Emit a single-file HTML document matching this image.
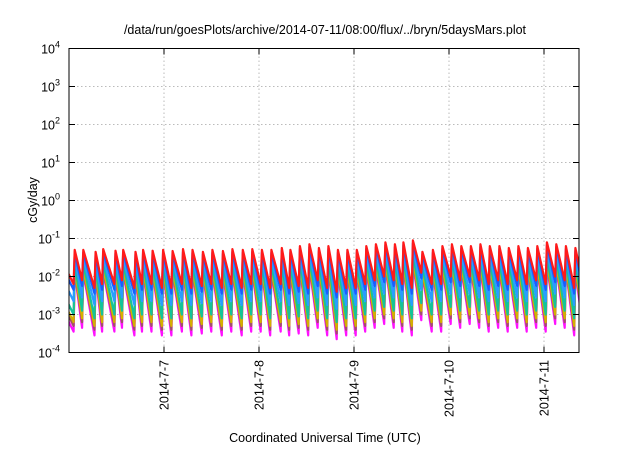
<!DOCTYPE html>
<html><head><meta charset="utf-8"><style>
body{margin:0;background:#fff;}
svg text{font-family:"Liberation Sans",sans-serif;fill:#000;}
</style></head><body>
<svg id="chart" width="640" height="448" viewBox="0 0 640 448" xmlns="http://www.w3.org/2000/svg">
<rect width="640" height="448" fill="#fff"/>
<text x="325" y="34" font-size="12.5" text-anchor="middle">/data/run/goesPlots/archive/2014-07-11/08:00/flux/../bryn/5daysMars.plot</text>
<text x="0" y="0" font-size="12.5" text-anchor="middle" transform="translate(37,200) rotate(-90)">cGy/day</text>
<text x="325" y="442" font-size="12.5" text-anchor="middle">Coordinated Universal Time (UTC)</text>
<g id="grid"></g>
<defs><clipPath id="clip"><rect x="69" y="48.5" width="510" height="304"/></clipPath></defs>
<g id="series" clip-path="url(#clip)"></g>
<rect x="69" y="48.5" width="510" height="304" fill="none" stroke="#000" stroke-width="1"/>
<g id="axes"></g>
</svg>
<script>
const dayLabels = ["2014-7-7","2014-7-8","2014-7-9","2014-7-10","2014-7-11"];
const dayTicks = [1,2,3,4,5];
const yExponents = [-4,-3,-2,-1,0,1,2,3,4];
const seriesNames = ["red","blue","light-blue","teal","olive","brown","magenta"];
const seriesColors = ["#ff1a1a","#1a5cff","#2a9cff","#14c39a","#d4b000","#a0506a","#ff10ff"];
const peakOffsets = [0,-0.07,-0.2,-0.35,-0.5,-0.55,-0.6];
const troughOffsets = [0,-0.15,-0.45,-0.8,-1.0,-1.1,-1.25];
const peakDays = [0.06,0.15,0.28,0.36,0.49,0.57,0.70,0.78,0.88,0.99,1.09,1.20,1.30,1.41,1.51,1.62,1.72,1.83,1.93,2.03,2.13,2.24,2.33,2.43,2.53,2.63,2.73,2.83,2.93,3.03,3.13,3.23,3.33,3.43,3.52,3.62,3.72,3.83,3.93,4.03,4.13,4.23,4.33,4.43,4.53,4.63,4.73,4.83,4.93,5.03,5.13,5.23,5.33];
const peakLogs = [-1.3,-1.3,-1.35,-1.28,-1.32,-1.3,-1.35,-1.3,-1.32,-1.3,-1.33,-1.28,-1.3,-1.35,-1.3,-1.33,-1.28,-1.3,-1.28,-1.3,-1.3,-1.25,-1.3,-1.2,-1.15,-1.25,-1.2,-1.3,-1.3,-1.3,-1.2,-1.15,-1.1,-1.15,-1.1,-1.05,-1.35,-1.3,-1.2,-1.15,-1.2,-1.2,-1.15,-1.2,-1.2,-1.25,-1.2,-1.25,-1.2,-1.1,-1.15,-1.2,-1.25];
const troughLogs = [-2.2,-2.1,-2.3,-2.2,-2.2,-2.1,-2.3,-2.2,-2.2,-2.3,-2.3,-2.2,-2.3,-2.25,-2.2,-2.3,-2.2,-2.3,-2.2,-2.2,-2.3,-2.2,-2.3,-2.25,-2.3,-2.1,-2.3,-2.4,-2.3,-2.3,-2.2,-2.1,-2.0,-2.1,-2.2,-2.3,-1.9,-2.2,-2.2,-2.0,-2.1,-2.0,-2.1,-2.2,-2.1,-2.2,-2.1,-2.2,-2.1,-2.2,-2.0,-2.1,-2.3];

const X0=69,X1=579,Y0=48.5,Y1=352.5,DAYS=(X1-X0)/95;
const xs=d=>X0+d*95;
const ys=l=>Y1-(l+4)*(Y1-Y0)/8;
const NS="http://www.w3.org/2000/svg";
function mk(tag,parent){const e=document.createElementNS(NS,tag);document.getElementById(parent).appendChild(e);return e;}

yExponents.forEach((e,i)=>{
  const y=ys(e);
  if(i>0&&i<yExponents.length-1){
    const g=mk('line','grid');
    
    
    g.setAttribute('x1',X0);g.setAttribute('x2',X1);g.setAttribute('y1',y);g.setAttribute('y2',y);
    g.setAttribute('stroke','#bbb');g.setAttribute('stroke-dasharray','1.5,2.5');
  }
  const t=mk('line','axes');
  
  
  t.setAttribute('x1',X0);t.setAttribute('x2',X0+6);t.setAttribute('y1',y);t.setAttribute('y2',y);t.setAttribute('stroke','#000');
  const t2=mk('line','axes');
  
  
  t2.setAttribute('x1',X1-6);t2.setAttribute('x2',X1);t2.setAttribute('y1',y);t2.setAttribute('y2',y);t2.setAttribute('stroke','#000');
  const tx=mk('text','axes');
  
  
  tx.setAttribute('x',X0-9);tx.setAttribute('y',y+5);tx.setAttribute('text-anchor','end');tx.setAttribute('font-size','12.5');
  tx.innerHTML='10<tspan dy="-6" font-size="9">'+e+'</tspan>';
});
dayTicks.forEach((d,i)=>{
  const x=xs(d);
  const g=mk('line','grid');
  
  
  g.setAttribute('x1',x);g.setAttribute('x2',x);g.setAttribute('y1',Y0);g.setAttribute('y2',Y1);
  g.setAttribute('stroke','#bbb');g.setAttribute('stroke-dasharray','1.5,2.5');
  const t=mk('line','axes');
  
  
  t.setAttribute('x1',x);t.setAttribute('x2',x);t.setAttribute('y1',Y1-6);t.setAttribute('y2',Y1);t.setAttribute('stroke','#000');
  const t2=mk('line','axes');
  
  
  t2.setAttribute('x1',x);t2.setAttribute('x2',x);t2.setAttribute('y1',Y0);t2.setAttribute('y2',Y0+6);t2.setAttribute('stroke','#000');
  const tx=mk('text','axes');
  
  
  tx.setAttribute('font-size','12.5');tx.setAttribute('text-anchor','end');
  tx.setAttribute('transform','translate('+(x+4.5)+',360) rotate(-90)');
  tx.textContent=dayLabels[i];
});
for(let s=seriesNames.length-1;s>=0;s--){
  const name=seriesNames[s];
  let pts=[];
  for(let i=0;i<peakDays.length;i++){
    const tr=troughLogs[i]+troughOffsets[s], pk=peakLogs[i]+peakOffsets[s];
    pts.push([xs(peakDays[i]-0.012),ys(tr)]);
    pts.push([xs(peakDays[i]),ys(pk)]);
  }
  const last=troughLogs[troughLogs.length-1]+troughOffsets[s];
  pts.push([xs(DAYS+0.05),ys(last)]);
  const first=troughLogs[0]+troughOffsets[s];
  pts.unshift([xs(-0.05),ys(first+0.5)]);
  const p=mk('polyline','series');
  
  
  p.setAttribute('points',pts.map(q=>q[0].toFixed(1)+','+q[1].toFixed(1)).join(' '));
  p.setAttribute('fill','none');p.setAttribute('stroke',seriesColors[s]);
  p.setAttribute('stroke-width','2.2');p.setAttribute('stroke-linejoin','round');
}
</script>
</body></html>
